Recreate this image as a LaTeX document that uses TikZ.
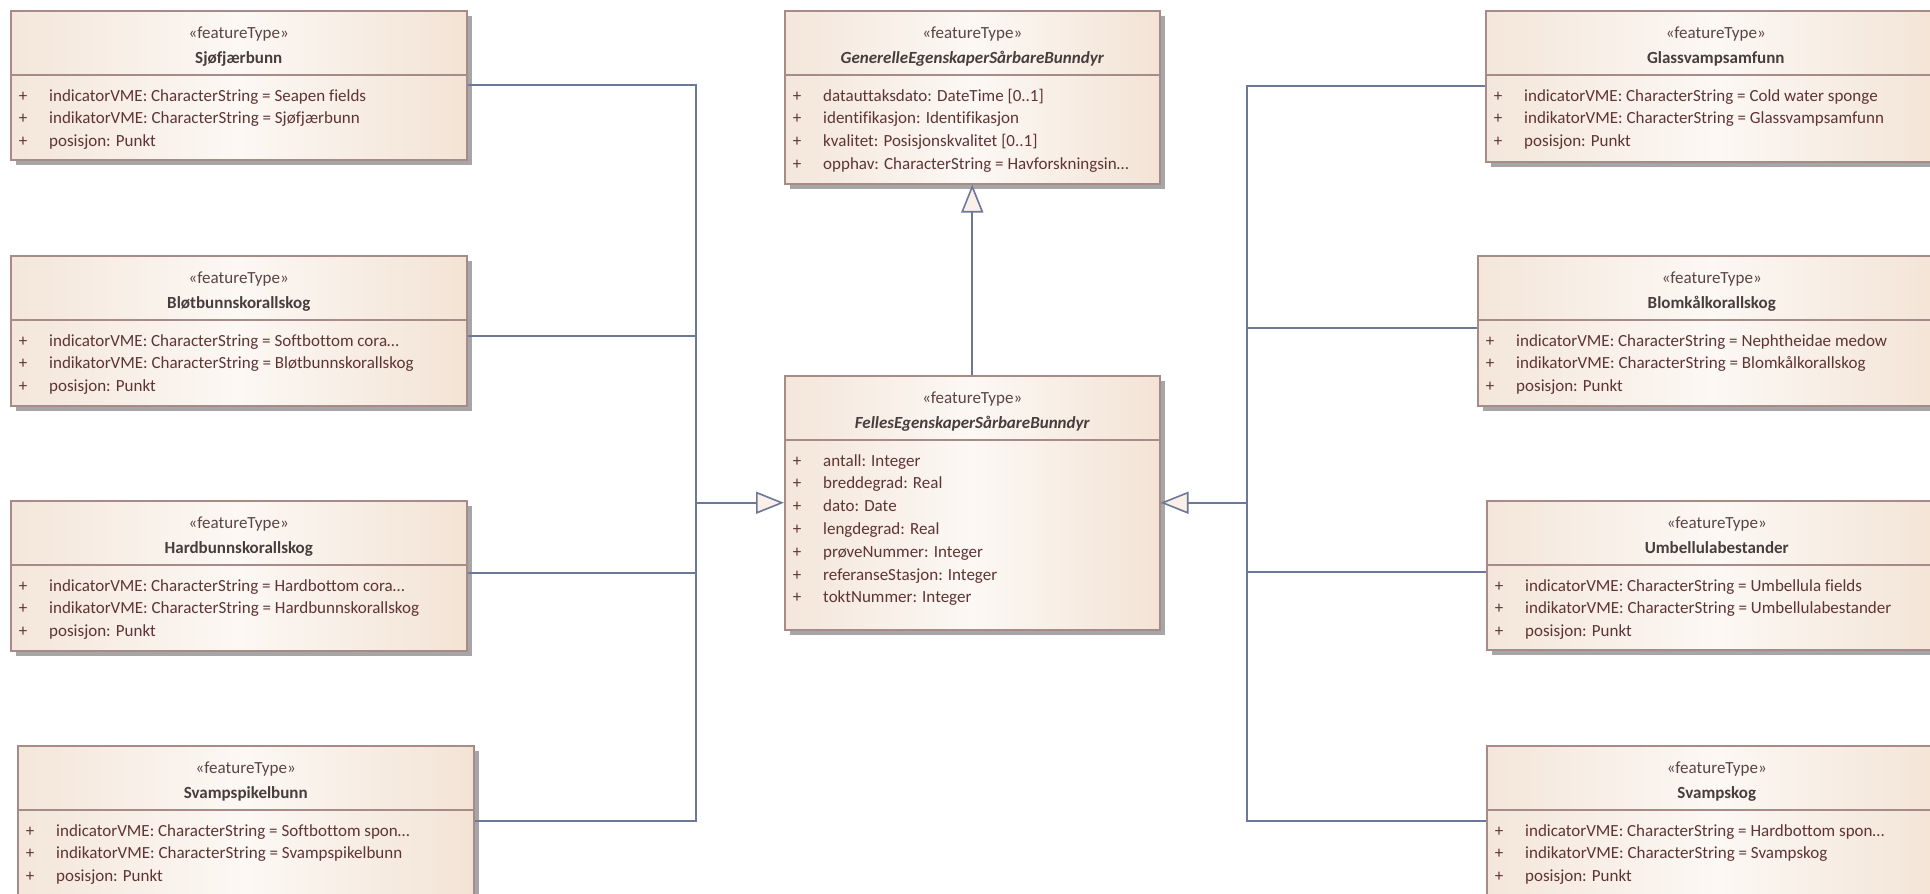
\documentclass[tikz,border=0pt]{standalone}
\usepackage{fontspec}
\setmainfont{Carlito}[Ligatures=NoCommon]
\usetikzlibrary{arrows.meta,shadows,calc}
\definecolor{boxborder}{HTML}{A68B88}
\definecolor{boxleft}{HTML}{F4E6DA}
\definecolor{boxmid}{HTML}{FCF8F4}
\definecolor{boxright}{HTML}{F3E3D5}
\definecolor{shadowgray}{HTML}{A6A6A6}
\definecolor{conncol}{HTML}{6B7897}
\definecolor{trifill}{HTML}{FBEFE9}
\definecolor{attrcol}{HTML}{5E3434}
\definecolor{titlecol}{HTML}{473D3D}
\definecolor{stereocol}{HTML}{5A4444}
\tikzset{
  umlbox/.style={draw=boxborder, line width=1.5pt, left color=boxleft, right color=boxright, middle color=boxmid,
    anchor=north west, inner sep=0pt, rectangle,
    drop shadow={shadow xshift=5pt, shadow yshift=-5pt, fill=shadowgray, opacity=1}},
  sepline/.style={draw=boxborder, line width=1.5pt},
  basetxt/.style={font=\fontsize{17}{20}\selectfont, inner sep=0pt},
  stereo/.style={basetxt, text=stereocol, anchor=base},
  titletxt/.style={basetxt, text=titlecol, anchor=base, font=\fontsize{17}{20}\selectfont\bfseries},
  plustxt/.style={basetxt, text=attrcol, anchor=base},
  attrtxt/.style={basetxt, text=attrcol, anchor=base west},
  conn/.style={draw=conncol, line width=1.6pt},
  genarrow/.style={-{Triangle[length=28pt, width=22pt, fill=trifill]}, line join=miter}
}
\newcommand{\umlclass}[7]{%
  \node[umlbox, minimum width=#4pt, minimum height=#5pt] (#1) at (#2,#3) {};
  \draw[sepline] ([yshift=-65pt]#1.north west) -- ([yshift=-65pt]#1.north east);
  \node[stereo] (#1-st) at ([yshift=-28pt]#1.north) {«featureType»};
  \node[titletxt] (#1-ti) at ([yshift=-53pt]#1.north) {#6};
  \foreach \a [count=\i] in {#7} {
    \node[plustxt] (#1-p\i) at ([xshift=13pt,yshift={-91pt-(\i-1)*22.8pt}]#1.north west) {+};
    \node[attrtxt] (#1-a\i) at ([xshift=39pt,yshift={-91pt-(\i-1)*22.8pt}]#1.north west) {\a};
  }
}
\begin{document}
\begin{tikzpicture}[x=1pt,y=-1pt]
\useasboundingbox (0,0) rectangle (1930,894);
\clip (0,0) rectangle (1930,894);
\fill[white] (0,0) rectangle (1930,894);

% left column
\umlclass{sjo}{10}{10}{456}{149}{Sjøfjærbunn}{indicatorVME: CharacterString = Seapen fields, indikatorVME: CharacterString = Sjøfjærbunn, posisjon: Punkt}
\umlclass{blot}{10}{255}{456}{150}{Bløtbunnskorallskog}{indicatorVME: CharacterString = Softbottom cora…, indikatorVME: CharacterString = Bløtbunnskorallskog, posisjon: Punkt}
\umlclass{hard}{10}{500}{456}{150}{Hardbunnskorallskog}{indicatorVME: CharacterString = Hardbottom cora…, indikatorVME: CharacterString = Hardbunnskorallskog, posisjon: Punkt}
\umlclass{svsp}{17}{745}{456}{150}{Svampspikelbunn}{indicatorVME: CharacterString = Softbottom spon…, indikatorVME: CharacterString = Svampspikelbunn, posisjon: Punkt}

% centre
\umlclass{gen}{784}{10}{375}{173}{\itshape GenerelleEgenskaperSårbareBunndyr}{datauttaksdato: DateTime [0..1], identifikasjon: Identifikasjon, kvalitet: Posisjonskvalitet [0..1], opphav: CharacterString = Havforskningsin…}
\umlclass{felles}{784}{375}{375}{254}{\itshape FellesEgenskaperSårbareBunndyr}{antall: Integer, breddegrad: Real, dato: Date, lengdegrad: Real, prøveNummer: Integer, referanseStasjon: Integer, toktNummer: Integer}

% right column
\umlclass{glass}{1485}{10}{460}{151}{Glassvampsamfunn}{indicatorVME: CharacterString = Cold water sponge, indikatorVME: CharacterString = Glassvampsamfunn, posisjon: Punkt}
\umlclass{blom}{1477}{255}{468}{150}{Blomkålkorallskog}{indicatorVME: CharacterString = Nephtheidae medow, indikatorVME: CharacterString = Blomkålkorallskog, posisjon: Punkt}
\umlclass{umbel}{1486}{500}{460}{149}{Umbellulabestander}{indicatorVME: CharacterString = Umbellula fields, indikatorVME: CharacterString = Umbellulabestander, posisjon: Punkt}
\umlclass{svsk}{1486}{745}{460}{150}{Svampskog}{indicatorVME: CharacterString = Hardbottom spon…, indikatorVME: CharacterString = Svampskog, posisjon: Punkt}

% connectors
\coordinate (lb) at (felles.west -| 696,0);
\coordinate (rb) at (felles.east -| 1247,0);
\draw[conn] (sjo.east) -| (lb);
\draw[conn] ([yshift=-5pt]blot.east) -| (lb);
\draw[conn] ([yshift=3pt]hard.east) -| (lb);
\draw[conn] (svsp.east) -| (lb);
\draw[conn, genarrow] (lb) -- (felles.west);

\draw[conn] (glass.west) -| (rb);
\draw[conn] ([yshift=3pt]blom.west) -| (rb);
\draw[conn] ([yshift=3pt]umbel.west) -| (rb);
\draw[conn] (svsk.west) -| (rb);
\draw[conn, genarrow] (rb) -- (felles.east);

\draw[conn, genarrow] (felles.north) -- (gen.south);
\end{tikzpicture}
\end{document}
